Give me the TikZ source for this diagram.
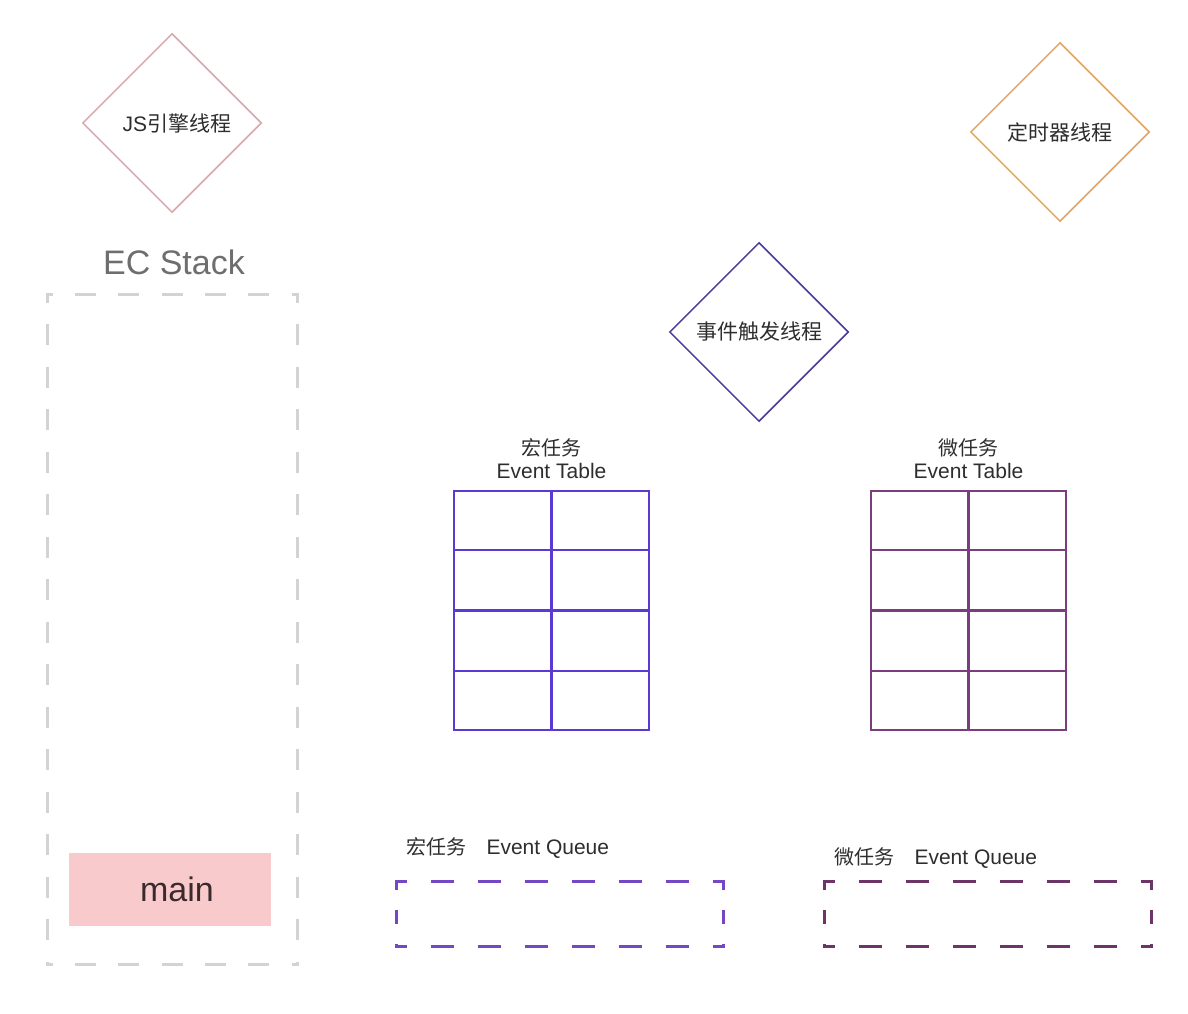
\documentclass[tikz,border=0pt]{standalone}
\usepackage{fontspec}
\setmainfont{Liberation Sans}
\newfontfamily\cjk{Noto Sans CJK SC}
\usetikzlibrary{shapes.geometric,positioning,calc}

\definecolor{jspink}{HTML}{D8A6AD}
\definecolor{timerorange}{HTML}{E2A463}
\definecolor{eventblue}{HTML}{463B9C}
\definecolor{macroblue}{HTML}{5A3AD2}
\definecolor{micropurple}{HTML}{7A3E7E}
\definecolor{macroq}{HTML}{7447C4}
\definecolor{microq}{HTML}{6C3467}
\definecolor{stackgray}{HTML}{D3D3D3}
\definecolor{mainpink}{HTML}{F9CACC}
\definecolor{maintext}{HTML}{3A2A2D}
\definecolor{txtgray}{HTML}{2E2E2E}

\begin{document}
\begin{tikzpicture}[x=1pt,y=-1pt,
    thread/.style={draw,diamond,minimum width=179pt,minimum height=179pt,inner sep=0pt,line width=1.5pt,text=txtgray,font=\fontsize{21}{24}\selectfont},
    evtable/.style={draw,line width=2.2pt,minimum width=195pt,minimum height=239pt,inner sep=0pt},
    evbox/.style={minimum width=326pt,minimum height=64pt,inner sep=0pt},
    qtop/.style={line width=3pt,dash pattern=on 23pt off 24pt,dash phase=11.5pt},
    qside/.style={line width=3pt,dash pattern=on 14pt off 20pt,dash phase=7.5pt},
    stop/.style={stackgray,line width=3pt,dash pattern=on 21pt off 22.3pt,dash phase=14.5pt},
    sside/.style={stackgray,line width=3pt,dash pattern=on 21pt off 21.5pt,dash phase=14.5pt},
    caption/.style={text=txtgray,font=\fontsize{21}{23}\selectfont,align=center}]
    \useasboundingbox[fill=white](0,0)rectangle(1188,1014);

    % threads
    \node[thread,color=jspink,text=txtgray](jsthread)at(172,123){\hspace*{10pt}JS{\cjk 引擎线程}};
    \node[thread,color=timerorange,text=txtgray](timerthread)at(1060,132){\cjk 定时器线程};
    \node[thread,color=eventblue,text=txtgray](eventthread)at(759,332){\cjk 事件触发线程};

    % EC stack
    \node[text=black!57,font=\fontsize{34}{38}\selectfont](stacklabel)at(174,262){EC Stack};
    \node[minimum width=249pt,minimum height=669pt,inner sep=0pt](ecstack)at(172.5,629.5){};
    \draw[stop]([xshift=-1.5pt]ecstack.north west)--([xshift=1.5pt]ecstack.north east);
    \draw[stop]([xshift=-1.5pt]ecstack.south west)--([xshift=1.5pt]ecstack.south east);
    \draw[sside]([yshift=-1.5pt]ecstack.north west)--([yshift=1.5pt]ecstack.south west);
    \draw[sside]([yshift=-1.5pt]ecstack.north east)--([yshift=1.5pt]ecstack.south east);
    \node[fill=mainpink,minimum width=202pt,minimum height=73pt](mainctx)at(170,889.5){};
    \node[text=maintext,font=\fontsize{34}{38}\selectfont]at([xshift=7pt]mainctx.center){main};

    % event tables
    \node[evtable,draw=macroblue](macrotable)at(551.5,610.5){};
    \node[evtable,draw=micropurple](microtable)at(968.5,610.5){};
    \draw[macroblue,line width=2.2pt](macrotable.north)--(macrotable.south);
    \draw[micropurple,line width=2.2pt](microtable.north)--(microtable.south);
    \foreach \r in {1,2,3}{
        \draw[macroblue,line width=2.2pt]($(macrotable.north west)!\r/4!(macrotable.south west)$)--($(macrotable.north east)!\r/4!(macrotable.south east)$);
        \draw[micropurple,line width=2.2pt]($(microtable.north west)!\r/4!(microtable.south west)$)--($(microtable.north east)!\r/4!(microtable.south east)$);
    }
    \node[caption,above=8pt of macrotable](macrocap){{\cjk\fontsize{20}{23}\selectfont 宏任务}\\Event Table};
    \node[caption,above=8pt of microtable](microcap){{\cjk\fontsize{20}{23}\selectfont 微任务}\\Event Table};

    % event queues
    \foreach \q/\c/\x in {macroqueue/macroq/560,microqueue/microq/988}{
        \node[evbox](\q)at(\x,914){};
        \draw[qtop,\c]([xshift=-1.5pt]\q.north west)--([xshift=1.5pt]\q.north east);
        \draw[qtop,\c]([xshift=-1.5pt]\q.south west)--([xshift=1.5pt]\q.south east);
        \draw[qside,\c]([yshift=-1.5pt]\q.north west)--([yshift=1.5pt]\q.south west);
        \draw[qside,\c]([yshift=-1.5pt]\q.north east)--([yshift=1.5pt]\q.south east);
    }
    \node[caption,anchor=west](macroqcap)at(403,848){{\cjk\fontsize{20}{23}\selectfont 宏任务}\hspace{20pt}Event Queue};
    \node[caption,anchor=west](microqcap)at(831,858){{\cjk\fontsize{20}{23}\selectfont 微任务}\hspace{20pt}Event Queue};
\end{tikzpicture}
\end{document}
